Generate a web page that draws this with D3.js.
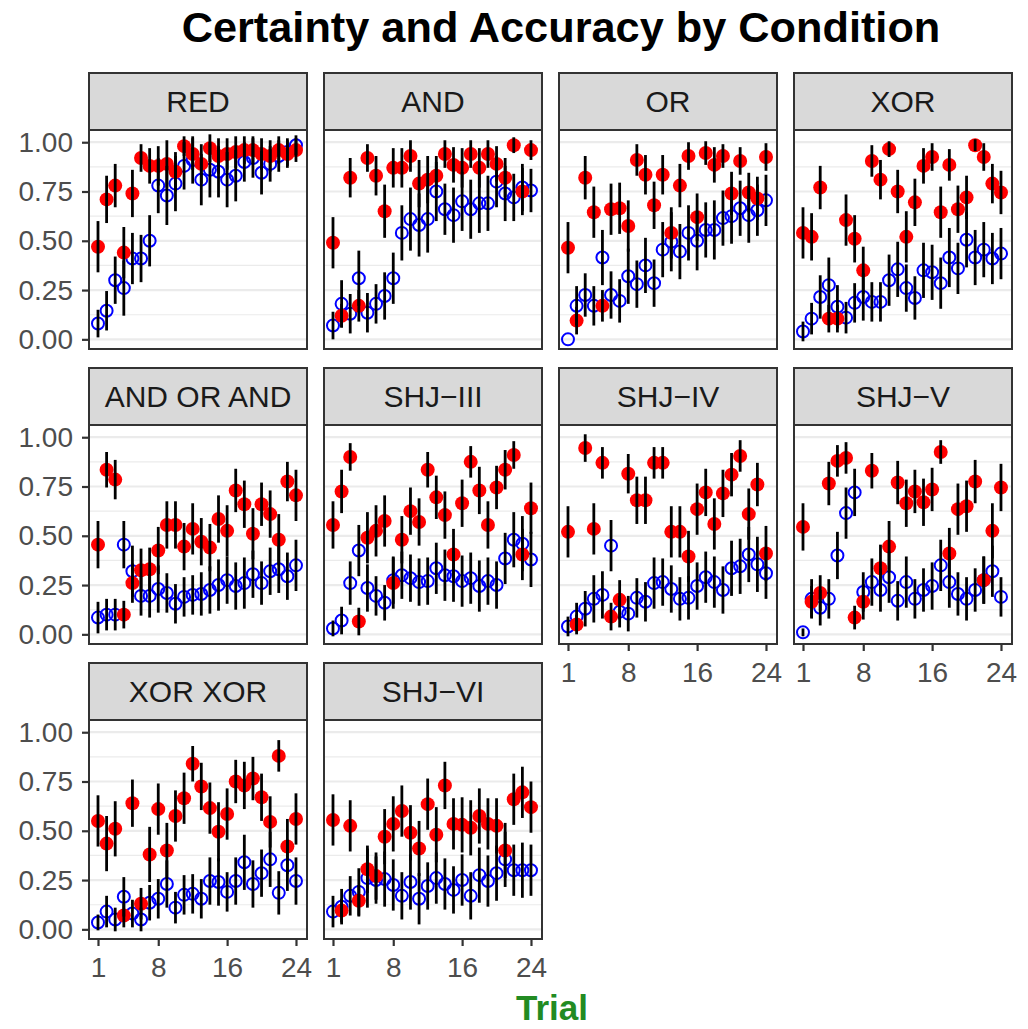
<!DOCTYPE html>
<html>
<head>
<meta charset="utf-8">
<script src="https://cdn.jsdelivr.net/npm/d3@7/dist/d3.min.js"></script>
<style>
  body { margin: 0; background: #fff; }
  svg { display: block; }
</style>
</head>
<body>
<div id="area"></div>
<script>
// facet order, left to right, top to bottom
const conditions = ['RED', 'AND', 'OR', 'XOR', 'AND OR AND', 'SHJ\u2212III', 'SHJ\u2212IV', 'SHJ\u2212V', 'XOR XOR', 'SHJ\u2212VI'];
const trials = [1, 2, 3, 4, 5, 6, 7, 8, 9, 10, 11, 12, 13, 14, 15, 16, 17, 18, 19, 20, 21, 22, 23, 24];
const xTicks = [1, 8, 16, 24];
const yTicks = [0, 0.25, 0.5, 0.75, 1];
const yMinor = [0.125, 0.375, 0.625, 0.875];

// red filled points (one row per condition)
const certainty = [
  [0.47, 0.71, 0.78, 0.44, 0.74, 0.92, 0.88, 0.88, 0.89, 0.85, 0.98, 0.94, 0.89, 0.97, 0.93, 0.94, 0.95, 0.96, 0.96, 0.94, 0.93, 0.96, 0.94, 0.96],
  [0.49, 0.12, 0.82, 0.17, 0.92, 0.83, 0.65, 0.87, 0.87, 0.93, 0.79, 0.81, 0.83, 0.94, 0.885, 0.87, 0.94, 0.87, 0.94, 0.89, 0.82, 0.985, 0.75, 0.96],
  [0.465, 0.095, 0.82, 0.645, 0.17, 0.66, 0.665, 0.575, 0.91, 0.835, 0.68, 0.835, 0.54, 0.78, 0.93, 0.62, 0.945, 0.885, 0.93, 0.74, 0.905, 0.745, 0.715, 0.925],
  [0.54, 0.52, 0.77, 0.105, 0.105, 0.605, 0.51, 0.35, 0.905, 0.81, 0.965, 0.75, 0.52, 0.695, 0.88, 0.925, 0.645, 0.885, 0.66, 0.72, 0.985, 0.925, 0.79, 0.745],
  [0.455, 0.835, 0.785, 0.10, 0.26, 0.325, 0.33, 0.425, 0.555, 0.555, 0.445, 0.535, 0.47, 0.44, 0.585, 0.525, 0.73, 0.66, 0.51, 0.66, 0.61, 0.48, 0.775, 0.705],
  [0.555, 0.725, 0.90, 0.065, 0.49, 0.525, 0.575, 0.26, 0.48, 0.625, 0.57, 0.835, 0.695, 0.605, 0.405, 0.665, 0.875, 0.73, 0.555, 0.745, 0.835, 0.91, 0.405, 0.64],
  [0.52, 0.05, 0.945, 0.535, 0.87, 0.09, 0.175, 0.815, 0.68, 0.68, 0.87, 0.87, 0.52, 0.52, 0.395, 0.635, 0.72, 0.56, 0.715, 0.81, 0.905, 0.61, 0.76, 0.41],
  [0.545, 0.165, 0.21, 0.765, 0.88, 0.895, 0.085, 0.165, 0.83, 0.335, 0.445, 0.77, 0.665, 0.725, 0.67, 0.735, 0.925, 0.41, 0.635, 0.65, 0.775, 0.275, 0.525, 0.745],
  [0.55, 0.435, 0.51, 0.07, 0.64, 0.13, 0.38, 0.61, 0.40, 0.575, 0.665, 0.84, 0.725, 0.615, 0.495, 0.585, 0.75, 0.73, 0.765, 0.67, 0.545, 0.88, 0.42, 0.56],
  [0.555, 0.095, 0.525, 0.145, 0.305, 0.27, 0.47, 0.535, 0.60, 0.49, 0.41, 0.635, 0.48, 0.73, 0.535, 0.53, 0.515, 0.575, 0.535, 0.525, 0.40, 0.66, 0.695, 0.62]
];
// half length of the error bar on each red point
const certaintyErr = [
  [0.13, 0.12, 0.11, 0.13, 0.12, 0.07, 0.09, 0.10, 0.12, 0.10, 0.05, 0.08, 0.10, 0.07, 0.09, 0.08, 0.08, 0.07, 0.07, 0.08, 0.08, 0.07, 0.07, 0.06],
  [0.13, 0.06, 0.10, 0.08, 0.07, 0.10, 0.135, 0.10, 0.10, 0.08, 0.12, 0.12, 0.10, 0.07, 0.09, 0.10, 0.07, 0.10, 0.07, 0.09, 0.10, 0.04, 0.12, 0.05],
  [0.13, 0.07, 0.11, 0.13, 0.08, 0.13, 0.13, 0.13, 0.08, 0.10, 0.12, 0.10, 0.13, 0.11, 0.07, 0.12, 0.06, 0.09, 0.06, 0.11, 0.07, 0.10, 0.11, 0.07],
  [0.13, 0.12, 0.11, 0.07, 0.07, 0.13, 0.12, 0.12, 0.08, 0.10, 0.04, 0.11, 0.13, 0.12, 0.09, 0.07, 0.13, 0.08, 0.12, 0.11, 0.03, 0.07, 0.10, 0.11],
  [0.12, 0.09, 0.10, 0.07, 0.10, 0.11, 0.11, 0.12, 0.12, 0.12, 0.12, 0.13, 0.12, 0.12, 0.12, 0.13, 0.11, 0.12, 0.13, 0.11, 0.12, 0.13, 0.10, 0.13],
  [0.12, 0.11, 0.07, 0.07, 0.13, 0.13, 0.13, 0.13, 0.12, 0.12, 0.12, 0.09, 0.11, 0.12, 0.13, 0.12, 0.08, 0.12, 0.12, 0.11, 0.10, 0.07, 0.13, 0.13],
  [0.13, 0.05, 0.07, 0.13, 0.08, 0.07, 0.10, 0.10, 0.12, 0.12, 0.08, 0.08, 0.13, 0.13, 0.13, 0.13, 0.12, 0.13, 0.12, 0.11, 0.08, 0.13, 0.11, 0.14],
  [0.12, 0.08, 0.09, 0.11, 0.08, 0.08, 0.06, 0.09, 0.09, 0.12, 0.13, 0.11, 0.12, 0.11, 0.12, 0.11, 0.06, 0.13, 0.13, 0.13, 0.11, 0.12, 0.14, 0.12],
  [0.13, 0.14, 0.14, 0.06, 0.12, 0.08, 0.14, 0.13, 0.14, 0.13, 0.13, 0.09, 0.12, 0.13, 0.15, 0.13, 0.11, 0.12, 0.11, 0.12, 0.13, 0.08, 0.14, 0.13],
  [0.13, 0.06, 0.13, 0.08, 0.12, 0.12, 0.14, 0.14, 0.13, 0.14, 0.14, 0.13, 0.14, 0.12, 0.13, 0.14, 0.14, 0.14, 0.13, 0.14, 0.14, 0.13, 0.13, 0.13]
];
// blue open circles
const accuracy = [
  [0.08, 0.145, 0.30, 0.26, 0.41, 0.41, 0.50, 0.78, 0.73, 0.79, 0.88, 0.91, 0.81, 0.86, 0.85, 0.81, 0.83, 0.90, 0.92, 0.845, 0.89, 0.93, 0.95, 0.985],
  [0.07, 0.18, 0.13, 0.31, 0.135, 0.18, 0.22, 0.31, 0.54, 0.61, 0.58, 0.61, 0.75, 0.66, 0.63, 0.70, 0.66, 0.69, 0.69, 0.80, 0.74, 0.72, 0.77, 0.755],
  [0.0, 0.17, 0.225, 0.17, 0.415, 0.225, 0.195, 0.32, 0.28, 0.375, 0.285, 0.455, 0.495, 0.445, 0.54, 0.50, 0.555, 0.555, 0.615, 0.625, 0.665, 0.63, 0.655, 0.705],
  [0.04, 0.105, 0.215, 0.275, 0.165, 0.11, 0.185, 0.215, 0.19, 0.19, 0.30, 0.355, 0.26, 0.21, 0.35, 0.34, 0.285, 0.415, 0.36, 0.505, 0.415, 0.455, 0.41, 0.435],
  [0.085, 0.10, 0.10, 0.455, 0.32, 0.195, 0.195, 0.23, 0.21, 0.155, 0.19, 0.20, 0.205, 0.225, 0.25, 0.275, 0.245, 0.26, 0.305, 0.26, 0.32, 0.33, 0.295, 0.35],
  [0.03, 0.07, 0.26, 0.425, 0.235, 0.195, 0.16, 0.275, 0.30, 0.285, 0.265, 0.27, 0.335, 0.30, 0.295, 0.27, 0.285, 0.245, 0.27, 0.25, 0.385, 0.48, 0.46, 0.38],
  [0.04, 0.09, 0.13, 0.18, 0.20, 0.45, 0.115, 0.105, 0.185, 0.165, 0.26, 0.265, 0.23, 0.18, 0.185, 0.245, 0.29, 0.265, 0.225, 0.335, 0.345, 0.405, 0.355, 0.31],
  [0.01, 0.18, 0.135, 0.18, 0.40, 0.615, 0.72, 0.215, 0.265, 0.225, 0.29, 0.17, 0.265, 0.18, 0.225, 0.245, 0.35, 0.265, 0.205, 0.18, 0.225, 0.275, 0.32, 0.19],
  [0.035, 0.09, 0.05, 0.165, 0.08, 0.05, 0.135, 0.155, 0.23, 0.11, 0.175, 0.18, 0.155, 0.245, 0.24, 0.19, 0.245, 0.34, 0.23, 0.285, 0.355, 0.185, 0.325, 0.245],
  [0.09, 0.115, 0.17, 0.19, 0.26, 0.25, 0.255, 0.225, 0.17, 0.24, 0.155, 0.22, 0.26, 0.23, 0.20, 0.25, 0.17, 0.275, 0.245, 0.285, 0.355, 0.30, 0.30, 0.30]
];
const accuracyErr = [
  [0.07, 0.10, 0.12, 0.14, 0.13, 0.12, 0.13, 0.14, 0.15, 0.14, 0.12, 0.12, 0.13, 0.14, 0.13, 0.14, 0.13, 0.10, 0.10, 0.11, 0.09, 0.08, 0.07, 0.05],
  [0.07, 0.12, 0.10, 0.14, 0.10, 0.10, 0.12, 0.13, 0.14, 0.16, 0.16, 0.17, 0.15, 0.13, 0.14, 0.15, 0.15, 0.15, 0.14, 0.13, 0.14, 0.12, 0.12, 0.11],
  [0.0, 0.10, 0.11, 0.10, 0.14, 0.12, 0.11, 0.14, 0.12, 0.14, 0.12, 0.14, 0.15, 0.14, 0.14, 0.15, 0.14, 0.15, 0.14, 0.14, 0.14, 0.14, 0.13, 0.13],
  [0.05, 0.08, 0.11, 0.14, 0.11, 0.08, 0.10, 0.12, 0.10, 0.10, 0.13, 0.14, 0.12, 0.11, 0.14, 0.14, 0.13, 0.15, 0.13, 0.14, 0.14, 0.14, 0.13, 0.13],
  [0.08, 0.08, 0.08, 0.12, 0.13, 0.10, 0.11, 0.12, 0.10, 0.10, 0.10, 0.10, 0.11, 0.12, 0.13, 0.12, 0.12, 0.13, 0.12, 0.11, 0.12, 0.12, 0.12, 0.13],
  [0.04, 0.07, 0.11, 0.13, 0.12, 0.10, 0.09, 0.12, 0.12, 0.12, 0.12, 0.12, 0.13, 0.13, 0.13, 0.13, 0.13, 0.13, 0.12, 0.12, 0.13, 0.14, 0.14, 0.14],
  [0.05, 0.07, 0.09, 0.12, 0.12, 0.13, 0.08, 0.09, 0.10, 0.10, 0.13, 0.12, 0.12, 0.11, 0.11, 0.12, 0.13, 0.13, 0.12, 0.14, 0.14, 0.14, 0.14, 0.13],
  [0.02, 0.10, 0.09, 0.10, 0.12, 0.13, 0.12, 0.10, 0.12, 0.11, 0.13, 0.10, 0.13, 0.10, 0.11, 0.12, 0.13, 0.13, 0.11, 0.11, 0.11, 0.12, 0.13, 0.10],
  [0.04, 0.08, 0.06, 0.10, 0.07, 0.06, 0.09, 0.10, 0.12, 0.08, 0.10, 0.10, 0.10, 0.12, 0.12, 0.10, 0.12, 0.14, 0.12, 0.12, 0.14, 0.11, 0.13, 0.12],
  [0.08, 0.09, 0.10, 0.12, 0.15, 0.12, 0.14, 0.13, 0.12, 0.14, 0.13, 0.12, 0.13, 0.13, 0.12, 0.13, 0.12, 0.14, 0.13, 0.14, 0.14, 0.13, 0.14, 0.13]
];

var width = 1028, height = 1029;
var panel_w = 218, strip_h = 57, plot_h = 219;
var col_x = [89, 324, 559, 794];
var row_y = [73, 368, 663];
var font = "'Liberation Sans', Arial, Helvetica, sans-serif";

var svg = d3.select('#area').append('svg')
    .attr('width', width)
    .attr('height', height)
    .style('font-family', font);

svg.append('rect').attr('width', width).attr('height', height).attr('fill', '#fff');

var x = d3.scaleLinear().domain([-0.045, 25.28]).range([0, panel_w]);
var y = d3.scaleLinear().domain([-0.049, 1.062]).range([plot_h, 0]);

// title
svg.append('text')
    .attr('x', 561).attr('y', 42)
    .attr('text-anchor', 'middle')
    .attr('font-size', 43.3).attr('font-weight', 'bold')
    .attr('fill', '#000')
    .text('Certainty and Accuracy by Condition');

conditions.forEach(function (name, i) {
    var col = i % 4, row = Math.floor(i / 4);
    var g = svg.append('g').attr('transform', 'translate(' + col_x[col] + ',' + row_y[row] + ')');

    // strip
    g.append('rect')
        .attr('width', panel_w).attr('height', strip_h)
        .attr('fill', '#D9D9D9').attr('stroke', '#333333').attr('stroke-width', 2);
    g.append('text')
        .attr('x', panel_w / 2).attr('y', strip_h / 2).attr('dy', '0.36em')
        .attr('text-anchor', 'middle')
        .attr('font-size', 30).attr('fill', '#1A1A1A')
        .text(name);

    var p = g.append('g').attr('transform', 'translate(0,' + strip_h + ')');
    var clip_id = 'clip' + i;
    p.append('clipPath').attr('id', clip_id)
        .append('rect').attr('width', panel_w).attr('height', plot_h);

    p.append('rect').attr('width', panel_w).attr('height', plot_h).attr('fill', '#fff');

    // grid
    p.selectAll('.minor').data(yMinor).enter().append('line')
        .attr('x1', 0).attr('x2', panel_w)
        .attr('y1', d => y(d)).attr('y2', d => y(d))
        .attr('stroke', '#EBEBEB').attr('stroke-width', 1.1);
    p.selectAll('.major').data(yTicks).enter().append('line')
        .attr('x1', 0).attr('x2', panel_w)
        .attr('y1', d => y(d)).attr('y2', d => y(d))
        .attr('stroke', '#EBEBEB').attr('stroke-width', 2.2);

    var marks = p.append('g').attr('clip-path', 'url(#' + clip_id + ')');

    var acc = trials.map((t, k) => ({ t: t, v: accuracy[i][k], e: accuracyErr[i][k] }));
    var cer = trials.map((t, k) => ({ t: t, v: certainty[i][k], e: certaintyErr[i][k] }));

    marks.selectAll('.acc').data(acc).enter().append('circle')
        .attr('cx', d => x(d.t)).attr('cy', d => y(d.v)).attr('r', 6)
        .attr('fill', 'none').attr('stroke', '#0000FF').attr('stroke-width', 2);

    marks.selectAll('.cer').data(cer).enter().append('circle')
        .attr('cx', d => x(d.t)).attr('cy', d => y(d.v)).attr('r', 7)
        .attr('fill', '#FF0000');

    marks.selectAll('.bar').data(acc.concat(cer).filter(d => d.e > 0)).enter().append('line')
        .attr('x1', d => x(d.t)).attr('x2', d => x(d.t))
        .attr('y1', d => y(d.v - d.e)).attr('y2', d => y(d.v + d.e))
        .attr('stroke', '#000').attr('stroke-width', 2.8);

    // border
    p.append('rect')
        .attr('width', panel_w).attr('height', plot_h)
        .attr('fill', 'none').attr('stroke', '#333333').attr('stroke-width', 2);

    // y axis on first column
    if (col === 0) {
        var ya = p.append('g').call(d3.axisLeft(y).tickValues(yTicks).tickFormat(d3.format('.2f')).tickSize(7).tickPadding(9));
        ya.select('.domain').remove();
        ya.selectAll('line').attr('stroke', '#333333').attr('stroke-width', 2.2);
        ya.selectAll('text').attr('fill', '#4D4D4D').attr('font-size', 28).attr('font-family', font);
    }
    // x axis where no panel below
    if (i + 4 >= conditions.length) {
        var xa = p.append('g').attr('transform', 'translate(0,' + plot_h + ')')
            .call(d3.axisBottom(x).tickValues(xTicks).tickFormat(d3.format('d')).tickSize(7).tickPadding(11));
        xa.select('.domain').remove();
        xa.selectAll('line').attr('stroke', '#333333').attr('stroke-width', 2.2);
        xa.selectAll('text').attr('fill', '#4D4D4D').attr('font-size', 28).attr('font-family', font);
    }
});

// x axis title
svg.append('text')
    .attr('x', 552).attr('y', 1020)
    .attr('text-anchor', 'middle')
    .attr('font-size', 35).attr('font-weight', 'bold')
    .attr('fill', '#228B22')
    .text('Trial');
</script>
</body>
</html>
